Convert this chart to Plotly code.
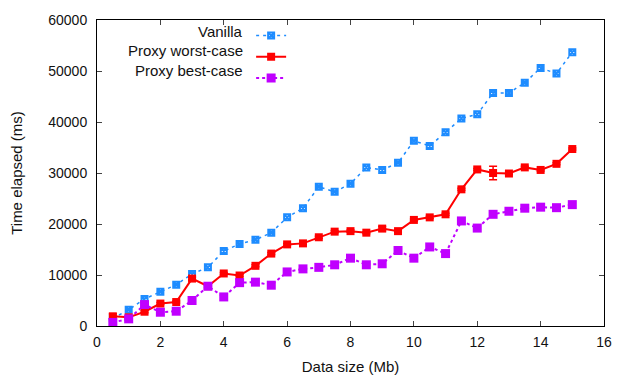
import plotly.graph_objects as go

sizes = [0.5, 1, 1.5, 2, 2.5, 3, 3.5, 4, 4.5, 5, 5.5, 6, 6.5, 7, 7.5,
         8, 8.5, 9, 9.5, 10, 10.5, 11, 11.5, 12, 12.5, 13, 13.5, 14, 14.5, 15]

vanilla = [1500, 3200, 5300, 6700, 8100, 10200, 11500, 14700, 16100, 16900,
           18300, 21300, 23100, 27300, 26300, 27900, 31100, 30600, 32000, 36300,
           35300, 38000, 40700, 41500, 45700, 45700, 47700, 50600, 49500, 53700]

worst = [1900, 1700, 2800, 4400, 4700, 9300, 7800, 10300, 9900, 11800,
         14200, 16000, 16200, 17400, 18500, 18600, 18300, 19100, 18600, 20800,
         21300, 21900, 26800, 30700, 30000, 29900, 31100, 30600, 31800, 34700]
worst_err = [500, 200, 200, 200, 200, 300, 200, 200, 200, 200,
             200, 200, 200, 200, 200, 200, 200, 400, 200, 200,
             200, 200, 200, 200, 1300, 200, 200, 200, 200, 200]

best = [700, 1400, 4200, 2700, 2900, 5000, 7800, 5700, 8500, 8600,
        8000, 10600, 11200, 11500, 12000, 13300, 12000, 12200, 14800, 13300,
        15500, 14200, 20600, 19200, 21900, 22500, 23100, 23300, 23200, 23800]

labels = ["Vanilla", "Proxy worst-case", "Proxy best-case"]
blue = "#1E8CFF"
red = "#FF0000"
purple = "#C000FF"

fig = go.Figure()
fig.add_trace(go.Scatter(
    x=sizes, y=vanilla, mode="lines+markers", name=" ",
    line=dict(color=blue, width=1.5, dash="3px,4px"),
    marker=dict(symbol="square-x-open", size=6, color=blue, line=dict(width=2, color=blue)),
))
fig.add_trace(go.Scatter(
    x=sizes, y=worst, mode="lines+markers", name="  ",
    line=dict(color=red, width=2),
    marker=dict(symbol="square", size=8, color=red),
    error_y=dict(type="data", array=worst_err, color=red, thickness=1.5, width=4),
))
fig.add_trace(go.Scatter(
    x=sizes, y=best, mode="lines+markers", name="   ",
    line=dict(color=purple, width=2, dash="dot"),
    marker=dict(symbol="square", size=9, color=purple),
))

font = "Liberation Sans, Arial, sans-serif"
leg_y = [0.962, 0.900, 0.836]
for lab, yy in zip(labels, leg_y):
    fig.add_annotation(x=0.2913, y=yy, xref="paper", yref="paper", text=lab,
                       showarrow=False, xanchor="right", yanchor="middle",
                       font=dict(family=font, size=15, color="#111"))

axis_common = dict(showline=True, linecolor="black", linewidth=1, mirror="ticks",
                   ticks="inside", ticklen=5, tickcolor="#444", showgrid=False,
                   zeroline=False, tickformat="d",
                   tickfont=dict(family=font, size=14, color="#111"))

fig.update_layout(
    width=624, height=389,
    margin=dict(l=97, r=12, t=15, b=63),
    paper_bgcolor="white", plot_bgcolor="white",
    showlegend=True,
    legend=dict(x=0.304, y=1.0, xanchor="left", yanchor="top",
                bgcolor="rgba(0,0,0,0)", font=dict(family=font, size=14),
                itemwidth=30, tracegroupgap=0),
    xaxis=dict(range=[0, 16], dtick=2, ticklabelstandoff=3,
               title=dict(text="Data size (Mb)", standoff=12,
                          font=dict(family=font, size=15, color="#111")), **axis_common),
    yaxis=dict(range=[0, 60000], dtick=10000, ticklabelstandoff=6,
               title=dict(text="Time elapsed (ms)", standoff=22,
                          font=dict(family=font, size=15, color="#111")), **axis_common),
)

fig.write_html("out.html")
